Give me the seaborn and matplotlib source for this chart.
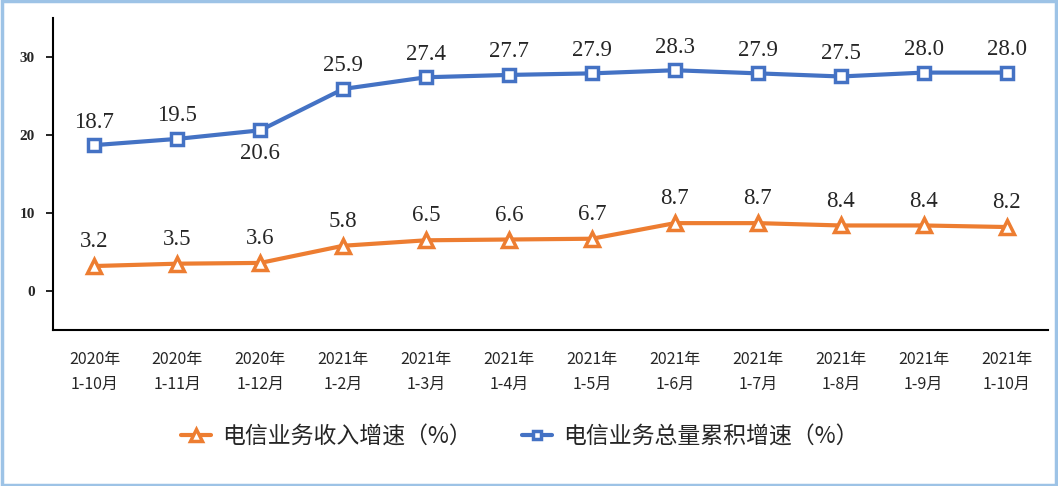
import numpy as np
import pandas as pd
import seaborn as sns
import matplotlib.pyplot as plt
from matplotlib.patches import Rectangle

# 数据
periods = ["2020年\n1-10月", "2020年\n1-11月", "2020年\n1-12月",
           "2021年\n1-2月", "2021年\n1-3月", "2021年\n1-4月",
           "2021年\n1-5月", "2021年\n1-6月", "2021年\n1-7月",
           "2021年\n1-8月", "2021年\n1-9月", "2021年\n1-10月"]
revenue_growth = [3.2, 3.5, 3.6, 5.8, 6.5, 6.6, 6.7, 8.7, 8.7, 8.4, 8.4, 8.2]
volume_growth = [18.7, 19.5, 20.6, 25.9, 27.4, 27.7, 27.9, 28.3, 27.9, 27.5, 28.0, 28.0]
revenue_name = "电信业务收入增速（%）"
volume_name = "电信业务总量累积增速（%）"

sns.set_style("white")
plt.rcParams['font.family'] = ['Noto Sans CJK SC', 'DejaVu Sans']

orange = "#ED7D31"
blue = "#4472C4"

fig = plt.figure(figsize=(10.58, 4.86), dpi=100)
ax = fig.add_axes([0.0501, 0.321, 0.9405, 0.642])

x = np.arange(len(periods))
df = pd.DataFrame({"x": x, "rev": revenue_growth, "vol": volume_growth})

sns.lineplot(data=df, x="x", y="rev", ax=ax, color=orange, linewidth=3,
             marker="^", markersize=10, markerfacecolor="white",
             markeredgecolor=orange, markeredgewidth=2.5, label=revenue_name)
sns.lineplot(data=df, x="x", y="vol", ax=ax, color=blue, linewidth=3,
             marker="s", markersize=8, markerfacecolor="white",
             markeredgecolor=blue, markeredgewidth=2.5, label=volume_name)

# 数据标签
lab_kw = dict(textcoords="offset points", ha="center", fontsize=16.5,
              family="Liberation Serif")
for i, v in enumerate(revenue_growth):
    ax.annotate(f"{v:.1f}", (i, v), xytext=(0, 10), va="bottom", **lab_kw)
for i, v in enumerate(volume_growth):
    if i == 2:
        ax.annotate(f"{v:.1f}", (i, v), xytext=(0, -9), va="top", **lab_kw)
    else:
        ax.annotate(f"{v:.1f}", (i, v), xytext=(0, 9), va="bottom", **lab_kw)

ax.set_xlim(-0.5, len(periods) - 0.5)
ax.set_ylim(-5, 35)
ax.set_yticks([0, 10, 20, 30])
ax.set_yticklabels(["0", "10", "20", "30"], family="Liberation Serif",
                   fontweight="bold", fontsize=11)
ax.set_xticks(x)
ax.set_xticklabels(periods, fontsize=11.5, linespacing=1.65)
ax.set_xticks(np.arange(-0.5, len(periods)), minor=True)
ax.tick_params(axis="x", which="major", length=0, pad=15)
ax.tick_params(axis="x", which="minor", length=6, width=1.2, direction="out", color="black")
ax.tick_params(axis="y", length=5, width=1.2, direction="out", color="black", pad=8, left=True)
ax.set_xlabel("")
ax.set_ylabel("")

for s in ["top", "right"]:
    ax.spines[s].set_visible(False)
for s in ["left", "bottom"]:
    ax.spines[s].set_color("black")
    ax.spines[s].set_linewidth(1.5)

ax.get_legend().remove()
handles, labels = ax.get_legend_handles_labels()
fig.legend(handles, labels, loc="center", bbox_to_anchor=(520 / 1058, 1 - 437 / 486),
           ncol=2, frameon=False, fontsize=16.5, handlelength=1.3, columnspacing=2.2,
           handletextpad=0.5, markerscale=0.8)

# 外框
fig.patches.append(Rectangle((0.002, 0.003), 0.996, 0.994, transform=fig.transFigure,
                             fill=False, edgecolor="#9DC3E6", linewidth=2.5))

plt.savefig("out.png", dpi=100)
